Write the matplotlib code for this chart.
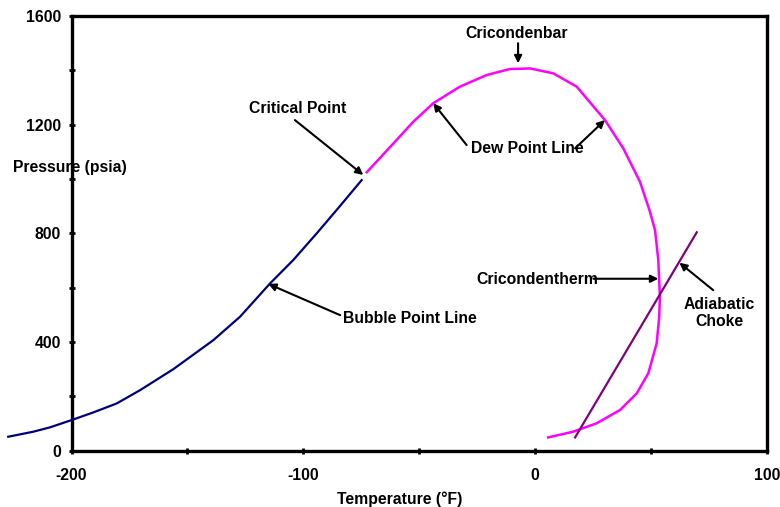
import matplotlib
matplotlib.use("Agg")
import matplotlib.pyplot as plt

plt.rcParams['font.family'] = ['Liberation Sans', 'DejaVu Sans']
plt.rcParams['font.weight'] = 'bold'
plt.rcParams['axes.unicode_minus'] = False

bubble_T = [-227.3, -216.5, -209.3, -199.9, -190.6, -180.5, -170.4, -156.1, -138.8, -127.3,
            -114.3, -104.3, -94.2, -85.6, -74.8]
bubble_P = [51.5, 70, 86, 113, 141, 174, 223, 300, 407, 493,
            616, 702, 800, 886, 996]

dew_T = [-72.6, -61.1, -52.5, -43.9, -32.4, -20.8, -10.8, -2.1, 7.9, 18, 30.2, 38.1, 45.3, 49.6,
         51.8, 53.2, 53.9, 53.6, 52.5, 48.9, 43.9, 36.7, 26.6, 16.5, 5.7]
dew_P = [1025, 1131, 1211, 1279, 1340, 1383, 1405, 1407, 1389, 1340, 1217, 1113, 990, 880,
         812, 702, 567, 493, 395, 285, 211, 150, 101, 70, 49]

choke_T = [17.3, 69.8]
choke_P = [49, 804]

x_ticks = [-200, -100, 0, 100]
y_ticks = [0, 400, 800, 1200, 1600]

fig = plt.figure(figsize=(7.8, 5.07), dpi=100)
ax = fig.add_axes([0.0917, 0.111, 0.983 - 0.0917, 0.9684 - 0.111])
ax.set_xlim(-200, 100)
ax.set_ylim(0, 1600)

ax.plot(bubble_T, bubble_P, color='#000080', lw=1.6, clip_on=False, zorder=3)
ax.plot(dew_T, dew_P, color='#FF00FF', lw=1.8, clip_on=False, zorder=3)
ax.plot(choke_T, choke_P, color='#800080', lw=1.6, clip_on=False, zorder=3)

for s in ax.spines.values():
    s.set_linewidth(2.4)
ax.set_xticks(x_ticks)
ax.set_xticks([-150, -50, 50], minor=True)
ax.set_yticks(y_ticks)
ax.set_yticks([200, 600, 1000, 1400], minor=True)
ax.tick_params(which='both', direction='inout', length=5, width=2, labelsize=11.3, pad=5)
ax.tick_params(axis='x', pad=10)
for lab in ax.get_xticklabels() + ax.get_yticklabels():
    lab.set_fontweight('bold')

ap = dict(arrowstyle='-|>', color='black', lw=1.5, mutation_scale=11, shrinkA=0, shrinkB=0)
fs = 11.3

ax.text(-7.8, 1537, 'Cricondenbar', ha='center', va='center', fontsize=fs, fontweight='bold')
ax.annotate('', xy=(-7.3, 1426), xytext=(-7.3, 1500), arrowprops=ap)

ax.text(-102.3, 1261, 'Critical Point', ha='center', va='center', fontsize=fs, fontweight='bold')
ax.annotate('', xy=(-74.1, 1015), xytext=(-103.6, 1217), arrowprops=ap)

ax.text(-3.4, 1114, 'Dew Point Line', ha='center', va='center', fontsize=fs, fontweight='bold')
ax.annotate('', xy=(-43.9, 1279), xytext=(-29.5, 1125), arrowprops=ap)
ax.annotate('', xy=(30.2, 1217), xytext=(17.3, 1113), arrowprops=ap)

ax.text(-82.9, 488, 'Bubble Point Line', ha='left', va='center', fontsize=fs, fontweight='bold')
ax.annotate('', xy=(-115.1, 614), xytext=(-84.1, 499), arrowprops=ap)

ax.text(-25.4, 632, 'Cricondentherm', ha='left', va='center', fontsize=fs, fontweight='bold')
ax.annotate('', xy=(53.2, 633), xytext=(25.2, 633), arrowprops=ap)

ax.text(79.5, 507, 'Adiabatic\nChoke', ha='center', va='center', fontsize=fs, fontweight='bold',
        linespacing=1.15)
ax.annotate('', xy=(62.3, 692), xytext=(76.9, 591), arrowprops=ap)

ax.text(-225.2, 1043, 'Pressure (psia)', ha='left', va='center', fontsize=fs,
        fontweight='bold', clip_on=False)
fig.text(400 / 780, 1 - 499 / 507, 'Temperature (°F)', ha='center', va='center',
         fontsize=fs, fontweight='bold')

fig.savefig('out.png', dpi=100)
